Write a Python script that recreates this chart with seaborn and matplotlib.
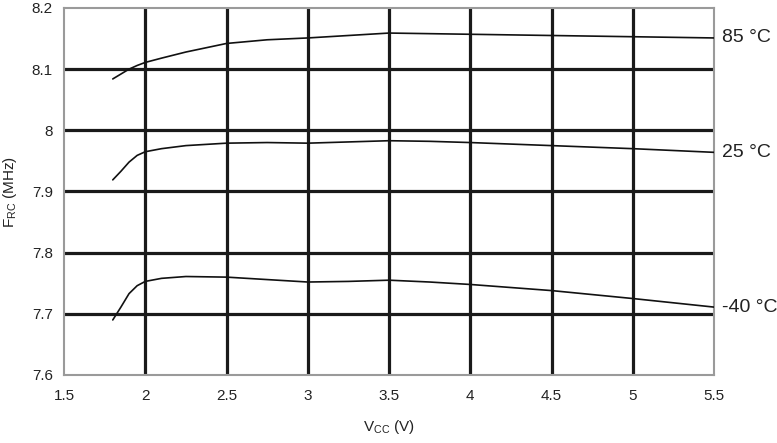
import numpy as np
import pandas as pd
import matplotlib
matplotlib.use('Agg')
import matplotlib.pyplot as plt
import seaborn as sns

# ── Data ─────────────────────────────────────────────────────────────────────
vcc = [1.8, 1.85, 1.9, 1.95, 2.0, 2.1, 2.25, 2.5, 2.75, 3.0, 3.25, 3.5,
       3.75, 4.0, 4.5, 5.0, 5.5]
f_85 = [8.084, 8.092, 8.100, 8.106, 8.111, 8.118, 8.128, 8.142, 8.148,
        8.151, 8.155, 8.159, 8.158, 8.157, 8.155, 8.153, 8.151]
f_25 = [7.919, 7.933, 7.948, 7.959, 7.965, 7.970, 7.975, 7.979, 7.980,
        7.979, 7.981, 7.983, 7.982, 7.980, 7.975, 7.970, 7.964]
f_m40 = [7.690, 7.711, 7.733, 7.746, 7.753, 7.758, 7.761, 7.760, 7.756,
         7.752, 7.753, 7.755, 7.752, 7.748, 7.738, 7.725, 7.711]
temps = ['85 °C', '25 °C', '-40 °C']

x_ticks = [1.5, 2, 2.5, 3, 3.5, 4, 4.5, 5, 5.5]
x_labels = ['1.5', '2', '2.5', '3', '3.5', '4', '4.5', '5', '5.5']
y_ticks = [7.6, 7.7, 7.8, 7.9, 8.0, 8.1, 8.2]
y_labels = ['7.6', '7.7', '7.8', '7.9', '8', '8.1', '8.2']

df = pd.DataFrame({
    'Vcc': vcc * 3,
    'F': f_85 + f_25 + f_m40,
    'T': [t for t in temps for _ in vcc],
})

# ── Style ────────────────────────────────────────────────────────────────────
sns.set_style('white')
plt.rcParams['font.family'] = ['Liberation Sans', 'DejaVu Sans']
plt.rcParams['mathtext.fontset'] = 'custom'
plt.rcParams['mathtext.rm'] = 'Liberation Sans'

GRID = '#1a1a1a'
EDGE = '#9a9a9a'
TXT = '#222222'

fig = plt.figure(figsize=(7.77, 4.43), dpi=100)
ax = fig.add_axes([0.0824, 0.1535, 0.8366, 0.8285])

# grid (interior only, the outer frame is grey)
for xv in x_ticks[1:-1]:
    ax.axvline(xv, color=GRID, lw=2.3, zorder=1)
for yv in y_ticks[1:-1]:
    ax.axhline(yv, color=GRID, lw=2.3, zorder=1)

sns.lineplot(data=df, x='Vcc', y='F', hue='T', palette=['#111111'] * 3,
             lw=1.2, legend=False, ax=ax, zorder=3, sort=True)

ax.set_xlim(1.5, 5.5)
ax.set_ylim(7.6, 8.2)
ax.set_xticks(x_ticks, x_labels)
ax.set_yticks(y_ticks, y_labels)
ax.tick_params(axis='both', labelsize=11, colors=EDGE, labelcolor=TXT,
               length=4, width=1, direction='out', pad=6)
ax.tick_params(axis='y', pad=4)

for s in ax.spines.values():
    s.set_color(EDGE)
    s.set_linewidth(1.5)
    s.set_visible(True)

ax.set_xlabel(r'$\mathregular{V_{CC}}$ (V)', fontsize=11, labelpad=11,
              color=TXT)
ax.set_ylabel(r'$\mathregular{F_{RC}}$ (MHz)', fontsize=11, labelpad=9,
              color=TXT)

# curve labels on the right
for t, ys in zip(temps, [f_85, f_25, f_m40]):
    ax.annotate(t, xy=(vcc[-1], ys[-1]), xytext=(6, 0),
                textcoords='offset points', ha='left', va='center',
                fontsize=14, color=TXT, annotation_clip=False)

fig.savefig('out.png', dpi=100, facecolor='white')
